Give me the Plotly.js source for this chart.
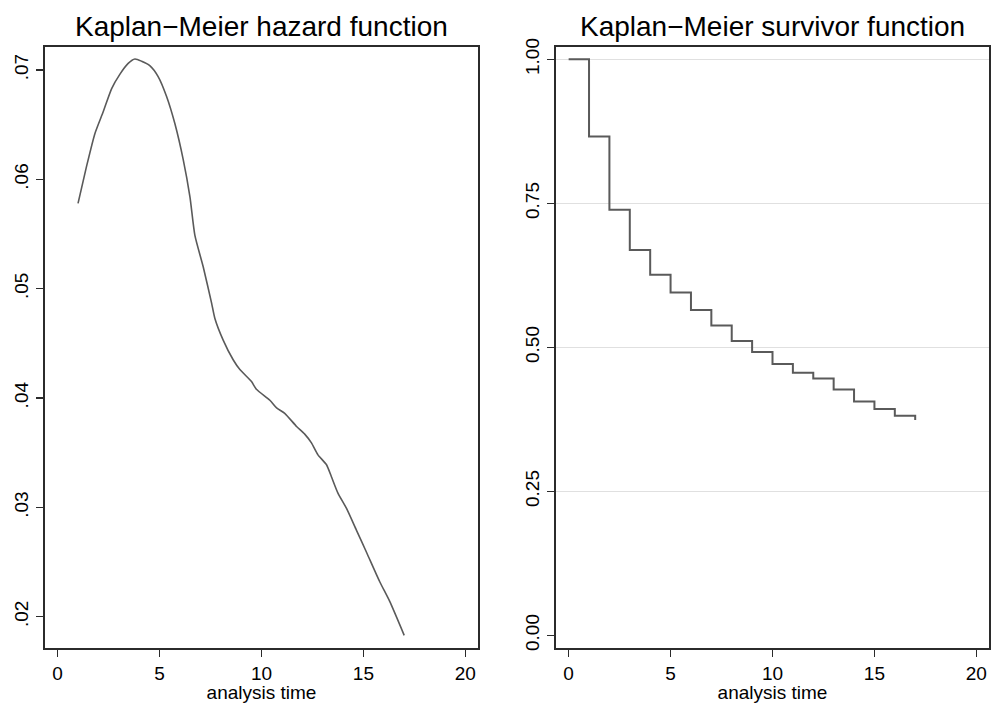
<!DOCTYPE html>
<html>
<head>
<meta charset="utf-8">
<script src="https://cdn.plot.ly/plotly-3.0.1.min.js"></script>
<style>html,body{margin:0;padding:0;background:#fff;}#chart{width:992px;height:703px;}</style>
</head>
<body>
<div id="chart"></div>
<script>
// Kaplan-Meier hazard function (smoothed)
const hazardTime  = [1, 1.42, 1.83, 2.24, 2.65, 3.05, 3.46, 3.79, 4.12, 4.52, 4.93, 5.34, 5.75, 6.16, 6.49, 6.73, 7.14, 7.55, 7.71, 8.12, 8.61, 8.94, 9.51, 9.75, 10.41, 10.74, 11.14, 11.72, 12.12, 12.45, 12.77, 13.19, 13.43, 13.75, 14.17, 14.66, 15.15, 15.8, 16.29, 17];
const hazardValue = [0.0578, 0.0612, 0.0642, 0.0662, 0.0683, 0.0696, 0.0706, 0.0710, 0.0708, 0.0704, 0.0694, 0.0676, 0.0651, 0.0618, 0.0584, 0.0549, 0.0520, 0.0487, 0.0473, 0.0453, 0.0435, 0.0426, 0.0415, 0.0408, 0.0398, 0.0391, 0.0386, 0.0374, 0.0367, 0.0359, 0.0348, 0.0339, 0.0328, 0.0313, 0.0299, 0.0279, 0.0259, 0.0232, 0.0214, 0.0183];

// Kaplan-Meier survivor function
const survTime  = [0, 1, 2, 3, 4, 5, 6, 7, 8, 9, 10, 11, 12, 13, 14, 15, 16, 17];
const survValue = [1.000, 0.866, 0.739, 0.669, 0.626, 0.595, 0.565, 0.538, 0.511, 0.492, 0.471, 0.456, 0.446, 0.427, 0.406, 0.393, 0.381, 0.374];

// Tick labels
const xTickVals = [0, 5, 10, 15, 20];
const xTickText = ["0", "5", "10", "15", "20"];
const hazTickVals = [0.02, 0.03, 0.04, 0.05, 0.06, 0.07];
const hazTickText = [".02", ".03", ".04", ".05", ".06", ".07"];
const survTickVals = [0, 0.25, 0.5, 0.75, 1];
const survTickText = ["0.00", "0.25", "0.50", "0.75", "1.00"];

const titles = ["Kaplan\u2212Meier hazard function", "Kaplan\u2212Meier survivor function"];
const xTitle = "analysis time";

const W = 992, H = 703;
const FONT = "Liberation Sans, Arial, Helvetica, sans-serif";
const frame = '#2b2b2b';
const lineCol = '#5a5a5a';

const traces = [
  {x: hazardTime, y: hazardValue, type: 'scatter', mode: 'lines',
   line: {color: lineCol, width: 1.6, shape: 'spline', smoothing: 0.6}, xaxis: 'x', yaxis: 'y', hoverinfo: 'x+y'},
  {x: survTime, y: survValue, type: 'scatter', mode: 'lines',
   line: {color: lineCol, width: 2, shape: 'hv'}, xaxis: 'x2', yaxis: 'y2', hoverinfo: 'x+y'}
];

function xax(domain, anchor) {
  return {
    domain: domain, anchor: anchor, range: [-0.62, 20.62],
    tickmode: 'array', tickvals: xTickVals, ticktext: xTickText,
    ticks: 'outside', ticklen: 7, tickwidth: 1.5, tickcolor: frame,
    showline: true, linecolor: frame, linewidth: 2, mirror: true,
    showgrid: false, zeroline: false,
    tickfont: {family: FONT, size: 19, color: '#000'},
    title: {text: xTitle, font: {family: FONT, size: 19, color: '#000'}, standoff: 3},
    automargin: false
  };
}

const ydom = [(H - 648) / H, (H - 47) / H];

const layout = {
  width: W, height: H,
  margin: {l: 0, r: 0, t: 0, b: 0},
  paper_bgcolor: '#fff', plot_bgcolor: '#fff',
  showlegend: false,
  font: {family: FONT, color: '#000'},
  xaxis: xax([45 / W, 478 / W], 'y'),
  xaxis2: xax([556 / W, 989 / W], 'y2'),
  yaxis: {
    domain: ydom, anchor: 'x', range: [0.01714, 0.0721],
    tickmode: 'array', tickvals: hazTickVals, ticktext: hazTickText,
    tickangle: -90, ticks: 'outside', ticklen: 7, tickwidth: 1.5, tickcolor: frame,
    ticklabelstandoff: 0,
    showline: true, linecolor: frame, linewidth: 2, mirror: true,
    showgrid: false, zeroline: false,
    tickfont: {family: FONT, size: 19, color: '#000'},
    automargin: false
  },
  yaxis2: {
    domain: ydom, anchor: 'x2', range: [-0.022, 1.0214],
    tickmode: 'array', tickvals: survTickVals, ticktext: survTickText,
    tickangle: -90, ticks: 'outside', ticklen: 7, tickwidth: 1.5, tickcolor: frame,
    ticklabelstandoff: 0,
    showline: true, linecolor: frame, linewidth: 2, mirror: true,
    showgrid: true, gridcolor: '#e0e0e0', gridwidth: 1.5,
    zeroline: true, zerolinecolor: '#ffffff', zerolinewidth: 3,
    tickfont: {family: FONT, size: 19, color: '#000'},
    automargin: false
  },
  annotations: [
    {text: titles[0], xref: 'paper', yref: 'paper', x: 261.5 / W, y: (H - 26) / H,
     xanchor: 'center', yanchor: 'middle', showarrow: false,
     font: {family: FONT, size: 28, color: '#000'}},
    {text: titles[1], xref: 'paper', yref: 'paper', x: 772.5 / W, y: (H - 26) / H,
     xanchor: 'center', yanchor: 'middle', showarrow: false,
     font: {family: FONT, size: 28, color: '#000'}}
  ]
};

Plotly.newPlot('chart', traces, layout, {staticPlot: true, displayModeBar: false});
</script>
</body>
</html>
